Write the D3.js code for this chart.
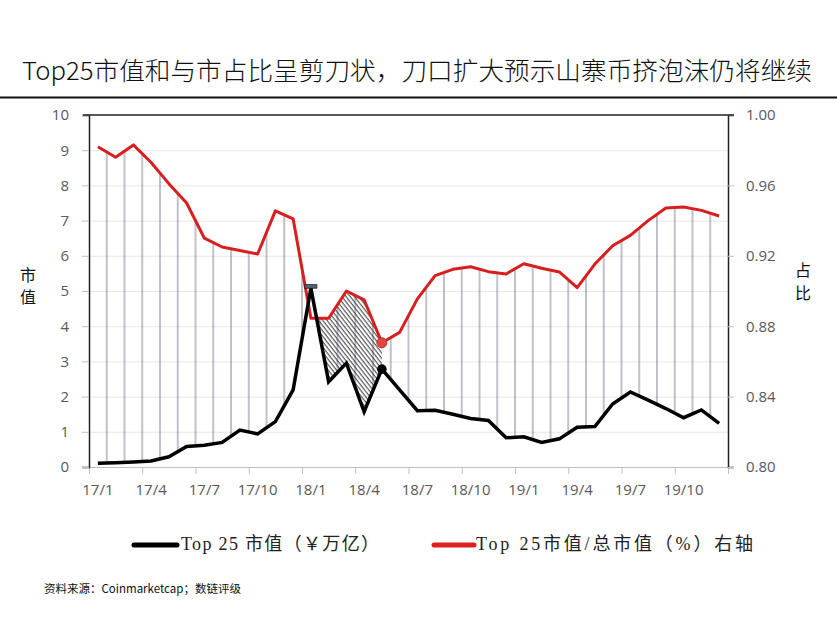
<!DOCTYPE html>
<html><head><meta charset="utf-8">
<script src="https://cdn.jsdelivr.net/npm/d3@7/dist/d3.min.js"></script>
<style>
html,body{margin:0;padding:0;background:#fff;}
svg{display:block;}
</style></head>
<body>
<svg id="chart" width="837" height="618"></svg>
<script>
// ---- data ----
const categories = ["17/1","17/2","17/3","17/4","17/5","17/6","17/7","17/8","17/9","17/10","17/11","17/12",
  "18/1","18/2","18/3","18/4","18/5","18/6","18/7","18/8","18/9","18/10","18/11","18/12",
  "19/1","19/2","19/3","19/4","19/5","19/6","19/7","19/8","19/9","19/10","19/11","19/12"];
const tickLabels = ["17/1","17/4","17/7","17/10","18/1","18/4","18/7","18/10","19/1","19/4","19/7","19/10"];
const top25Cap = [0.11,0.12,0.14,0.17,0.29,0.58,0.62,0.70,1.05,0.94,1.29,2.19,
  5.08,2.42,2.95,1.57,2.78,2.19,1.60,1.61,1.50,1.38,1.32,0.83,
  0.86,0.70,0.80,1.13,1.15,1.79,2.13,1.90,1.66,1.40,1.62,1.24];
const top25Share = [0.982,0.976,0.983,0.973,0.961,0.950,0.930,0.925,0.923,0.921,0.9455,0.941,
  0.8845,0.8845,0.900,0.895,0.8706,0.8765,0.8955,0.9087,0.9123,0.9138,0.911,0.9097,
  0.9155,0.9129,0.9108,0.9019,0.9153,0.9257,0.9316,0.940,0.9472,0.9477,0.9458,0.9426];
const leftTicks = [0,1,2,3,4,5,6,7,8,9,10];
const rightTicks = [0.80,0.84,0.88,0.92,0.96,1.00];
const highlightIdx = 16;
const peakIdx = 12;
const hatchRange = ["18/1","18/5"];

const title = "Top25市值和与市占比呈剪刀状，刀口扩大预示山寨币挤泡沫仍将继续";
const legend1 = "Top 25 市值（￥万亿）";
const legend2 = "Top 25市值/总市值（%）右轴";
const source = "资料来源：Coinmarketcap；数链评级";

// ---- layout ----
const L = 89, R = 728, T = 115, B = 467;
const svg = d3.select("#chart");
const numFont = "'Open Sans', 'DejaVu Sans', sans-serif";
const cjkFont = "'Noto Sans CJK SC', sans-serif";

const x = d3.scaleBand().domain(categories).range([L, R]).padding(0);
const bw = x.bandwidth();
const xc = c => x(c) + bw / 2;
const xIdx = d3.scaleLinear().domain([0, categories.length]).range([L, R]);
const yL = d3.scaleLinear().domain([0, 10]).range([B, T]);
const yR = d3.scaleLinear().domain([0.8, 1.0]).range([B, T]);

// title
svg.append("text").attr("x", 417).attr("y", 80).attr("text-anchor", "middle")
  .attr("font-family", cjkFont).attr("font-size", 25).attr("font-weight", 300).attr("fill", "#111")
  .attr("textLength", 790).attr("lengthAdjust", "spacingAndGlyphs").text(title);
svg.append("line").attr("x1", 0).attr("x2", 837).attr("y1", 97.5).attr("y2", 97.5)
  .attr("stroke", "#111").attr("stroke-width", 2);

// patterns
const defs = svg.append("defs");
const vp = defs.append("pattern").attr("id", "vlines").attr("patternUnits", "userSpaceOnUse")
  .attr("x", L - bw / 2).attr("y", 0).attr("width", bw).attr("height", 20);
vp.append("line").attr("x1", bw / 2).attr("x2", bw / 2).attr("y1", 0).attr("y2", 20)
  .attr("stroke", "#4d5266").attr("stroke-width", 1).attr("stroke-opacity", 0.7);
const dp = defs.append("pattern").attr("id", "dlines").attr("patternUnits", "userSpaceOnUse")
  .attr("width", 3.3).attr("height", 10).attr("patternTransform", "rotate(-38)");
dp.append("line").attr("x1", 1).attr("x2", 1).attr("y1", 0).attr("y2", 10)
  .attr("stroke", "#222").attr("stroke-width", 0.9);
defs.append("clipPath").attr("id", "hclip").append("rect")
  .attr("x", xc(hatchRange[0])).attr("y", T)
  .attr("width", xc(hatchRange[1]) - xc(hatchRange[0])).attr("height", B - T);

// gridlines
svg.append("g").selectAll("line").data(leftTicks.filter(d => d > 0 && d < 10)).join("line")
  .attr("x1", L).attr("x2", R).attr("y1", d => yL(d) + 0.5).attr("y2", d => yL(d) + 0.5)
  .attr("stroke", "#e6e6e6").attr("stroke-width", 1);

// area between lines (only where share line above cap line)
const pts = [];
categories.forEach((c, i) => {
  const p = {x: xc(c), yr: yR(top25Share[i]), yb: yL(top25Cap[i])};
  if (i > 0) {
    const q = pts[pts.length - 1];
    const d1 = q.yr - q.yb, d2 = p.yr - p.yb;
    if (d1 * d2 < 0) {
      const t = d1 / (d1 - d2);
      const yy = q.yb + (p.yb - q.yb) * t;
      pts.push({x: q.x + (p.x - q.x) * t, yr: yy, yb: yy});
    }
  }
  pts.push(p);
});
const area = d3.area().x(d => d.x).y0(d => d.yb).y1(d => Math.min(d.yr, d.yb));
svg.append("path").attr("d", area(pts)).attr("fill", "url(#vlines)");
svg.append("path").attr("d", area(pts)).attr("fill", "url(#dlines)").attr("clip-path", "url(#hclip)");

// axes
const axisColor = "#595959";
const gx = svg.append("g").attr("transform", `translate(0,${B})`)
  .call(d3.axisBottom(xIdx).tickValues(d3.range(0, categories.length + 1, 3)).tickSize(7).tickFormat(""));
gx.select(".domain").attr("stroke", "#bfbfbf");
gx.selectAll(".tick line").attr("stroke", "#bfbfbf");
const gxl = svg.append("g").attr("transform", `translate(0,${B})`)
  .call(d3.axisBottom(x).tickValues(tickLabels).tickSize(0).tickPadding(17));
gxl.select(".domain").remove();
gxl.selectAll("text").attr("font-family", numFont).attr("font-size", 15).attr("fill", axisColor);

const gl = svg.append("g").attr("transform", `translate(${L},0)`)
  .call(d3.axisLeft(yL).tickValues(leftTicks).tickSize(7).tickPadding(13).tickFormat(d3.format("d")));
gl.select(".domain").attr("stroke", "#222").attr("stroke-width", 1.5);
gl.selectAll(".tick line").attr("stroke", "#bfbfbf");
gl.selectAll("text").attr("font-family", numFont).attr("font-size", 15).attr("fill", axisColor);

const gr = svg.append("g").attr("transform", `translate(${R},0)`)
  .call(d3.axisRight(yR).tickValues(rightTicks).tickSize(6).tickPadding(12).tickFormat(d3.format(".2f")));
gr.select(".domain").attr("stroke", "#222").attr("stroke-width", 1.5);
gr.selectAll(".tick line").attr("stroke", "#bfbfbf");
gr.selectAll("text").attr("font-family", numFont).attr("font-size", 15).attr("fill", axisColor);

// top border
svg.append("line").attr("x1", L - 6).attr("x2", R + 6).attr("y1", T).attr("y2", T)
  .attr("stroke", "#222").attr("stroke-width", 1.5);

// lines
const lineCap = d3.line().x((d, i) => xc(categories[i])).y(d => yL(d));
const lineShare = d3.line().x((d, i) => xc(categories[i])).y(d => yR(d));
svg.append("path").attr("d", lineShare(top25Share)).attr("fill", "none")
  .attr("stroke", "#d81e1e").attr("stroke-width", 3).attr("stroke-linejoin", "round");
svg.append("path").attr("d", lineCap(top25Cap)).attr("fill", "none")
  .attr("stroke", "#000").attr("stroke-width", 3.5).attr("stroke-linejoin", "miter");

// markers
svg.append("rect").attr("x", xc(categories[peakIdx]) - 6).attr("y", yL(top25Cap[peakIdx]) - 3.5)
  .attr("width", 12).attr("height", 3.5).attr("fill", "#5c6479").attr("stroke", "#1a1a1a").attr("stroke-width", 0.8);
svg.append("circle").attr("cx", xc(categories[highlightIdx])).attr("cy", yR(top25Share[highlightIdx]))
  .attr("r", 5).attr("fill", "#e04848").attr("stroke", "#c42a2a").attr("stroke-width", 1);
svg.append("circle").attr("cx", xc(categories[highlightIdx])).attr("cy", yL(top25Cap[highlightIdx]))
  .attr("r", 4.8).attr("fill", "#000");

// axis titles
["市", "值"].forEach((ch, i) => svg.append("text").attr("x", 28).attr("y", 281 + i * 22)
  .attr("text-anchor", "middle").attr("font-family", cjkFont).attr("font-size", 16).attr("fill", "#111").text(ch));
["占", "比"].forEach((ch, i) => svg.append("text").attr("x", 803).attr("y", 276 + i * 23)
  .attr("text-anchor", "middle").attr("font-family", cjkFont).attr("font-size", 16).attr("fill", "#111").text(ch));

// legend
const legFont = "'Liberation Serif', 'Noto Sans CJK SC', serif";
svg.append("line").attr("x1", 134).attr("x2", 177).attr("y1", 545).attr("y2", 545)
  .attr("stroke", "#000").attr("stroke-width", 5).attr("stroke-linecap", "round");
svg.append("text").attr("x", 181).attr("y", 550).attr("font-family", legFont).attr("font-size", 18)
  .attr("fill", "#222").attr("textLength", 198).attr("lengthAdjust", "spacing").text(legend1);
svg.append("line").attr("x1", 434).attr("x2", 474).attr("y1", 545).attr("y2", 545)
  .attr("stroke", "#e02020").attr("stroke-width", 5).attr("stroke-linecap", "round");
svg.append("text").attr("x", 476).attr("y", 550).attr("font-family", legFont).attr("font-size", 18)
  .attr("fill", "#222").attr("textLength", 277).attr("lengthAdjust", "spacing").text(legend2);

// source
svg.append("text").attr("x", 44).attr("y", 593).attr("font-family", cjkFont).attr("font-size", 11.5)
  .attr("fill", "#111").text(source);
</script>
</body></html>
